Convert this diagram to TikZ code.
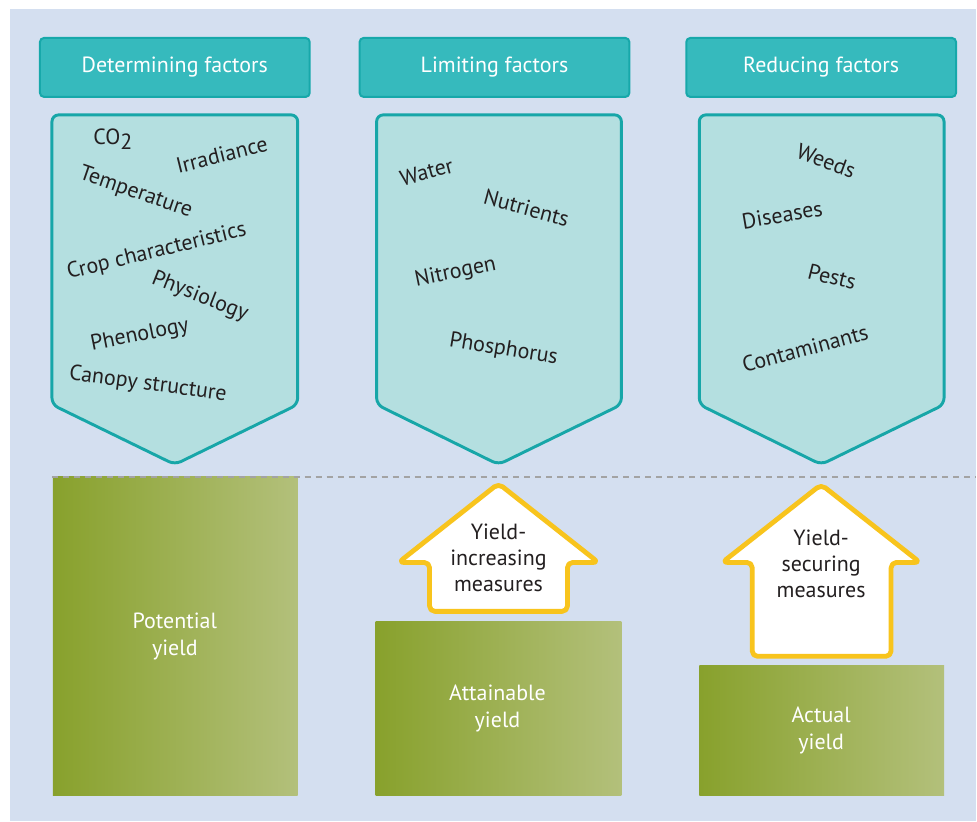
\documentclass[tikz,border=0pt]{standalone}
\usepackage{fontspec}
\setmainfont{PT Sans}

\definecolor{panelbg}{HTML}{D4DFF0}
\definecolor{headfill}{HTML}{36BABD}
\definecolor{headline}{HTML}{17A8AA}
\definecolor{boxfill}{HTML}{B4DFE0}
\definecolor{boxline}{HTML}{17A6A8}
\definecolor{greendark}{HTML}{88A12C}
\definecolor{greenlight}{HTML}{B3C07B}
\definecolor{arrowline}{HTML}{F8C41D}
\definecolor{dashgray}{HTML}{A3A3A3}
\definecolor{textdark}{HTML}{231F20}

\begin{document}
\begin{tikzpicture}[x=0.75pt,y=0.75pt,yscale=-1,xscale=1,
  header/.style={draw=headline, fill=headfill, line width=1.5pt, rounded corners=3pt},
  factorbox/.style={draw=boxline, fill=boxfill, line width=2.2pt, rounded corners=5pt, line join=round},
  yieldbar/.style={left color=greendark, right color=greenlight},
  measure/.style={draw=arrowline, fill=white, line width=3.6pt, rounded corners=4pt, line join=round},
  headtext/.style={text=white, inner sep=0.75pt, font=\fontsize{16.5}{19}\selectfont},
  factor/.style={text=textdark, inner sep=0.75pt, font=\fontsize{16.5}{19}\selectfont},
  yieldtext/.style={text=white, align=center, inner sep=0.75pt, font=\fontsize{16.5}{20.25}\selectfont},
  measuretext/.style={text=textdark, align=center, inner sep=0.75pt, font=\fontsize{16.5}{19.5}\selectfont}
]
\path (0,0) rectangle (977,822);

%Shape: Rectangle (panel)
\fill [panelbg] (10,9) rectangle (977,822);

%Shape: Rectangle (headers)
\draw [header] (40,38) rectangle (310,97);
\draw [header] (360,38) rectangle (630,97);
\draw [header] (687,38) rectangle (957,97);

%Shape: Pentagon (factor boxes)
\draw [factorbox] (52,115) -- (298,115) -- (298,405) -- (175,465) -- (52,405) -- cycle;
\draw [factorbox] (377,115) -- (622,115) -- (622,405) -- (499,465) -- (377,405) -- cycle;
\draw [factorbox] (700,115) -- (945,115) -- (945,405) -- (822,465) -- (700,405) -- cycle;

%Shape: Rectangle (yield bars)
\shade [yieldbar] (53,477) rectangle (298,796);
\shade [yieldbar] (376,622) rectangle (622,796);
\shade [yieldbar] (700,666) rectangle (945,796);

%Straight Lines
\draw [dashgray, line width=1.5pt, dash pattern={on 4.5pt off 3.75pt}] (52,477) -- (977,477);

%Shape: Up Arrow
\draw [measure] (499,484) -- (599,563) -- (568,563) -- (568,612) -- (430,612) -- (430,563) -- (399,563) -- cycle;
\draw [measure] (822,485) -- (921,563) -- (892,563) -- (892,657) -- (753,657) -- (753,563) -- (723,563) -- cycle;

% Text Node
\node [headtext] (hdet) at (175,67.5) {Determining factors};
\node [headtext] (hlim) at (495,67.5) {Limiting factors};
\node [headtext] (hred) at (822,67.5) {Reducing factors};

% Text Node
\node [factor] (co2) at (113,139) {CO\raisebox{-4pt}{2}};
\node [factor, rotate=14] (irradiance) at (222,155) {Irradiance};
\node [factor, rotate=-19] (temperature) at (136,193) {Temperature};
\node [factor, rotate=13.7] (cropchar) at (157,252) {Crop characteristics};
\node [factor, rotate=-21.6] (physiology) at (200,297) {Physiology};
\node [factor, rotate=11.3] (phenology) at (140,336) {Phenology};
\node [factor, rotate=-7.5] (canopy) at (148,385) {Canopy structure};

% Text Node
\node [factor, rotate=15] (water) at (427,172) {Water};
\node [factor, rotate=-15] (nutrients) at (527,208) {Nutrients};
\node [factor, rotate=11.5] (nitrogen) at (456,273) {Nitrogen};
\node [factor, rotate=-9.5] (phosphorus) at (504,350) {Phosphorus};

% Text Node
\node [factor, rotate=-20] (weeds) at (827,161) {Weeds};
\node [factor, rotate=9.7] (diseases) at (783,215) {Diseases};
\node [factor, rotate=-14] (pests) at (833,277) {Pests};
\node [factor, rotate=15] (contaminants) at (806,349) {Contaminants};

% Text Node
\node [yieldtext] (potential) at (175,637) {Potential\\yield};
\node [yieldtext] (attainable) at (498,709) {Attainable\\yield};
\node [yieldtext] (actual) at (822,731) {Actual\\yield};

% Text Node
\node [measuretext] (increasing) at (499,558) {Yield-\\increasing\\measures};
\node [measuretext] (securing) at (822,564) {Yield-\\securing\\measures};

\end{tikzpicture}
\end{document}
